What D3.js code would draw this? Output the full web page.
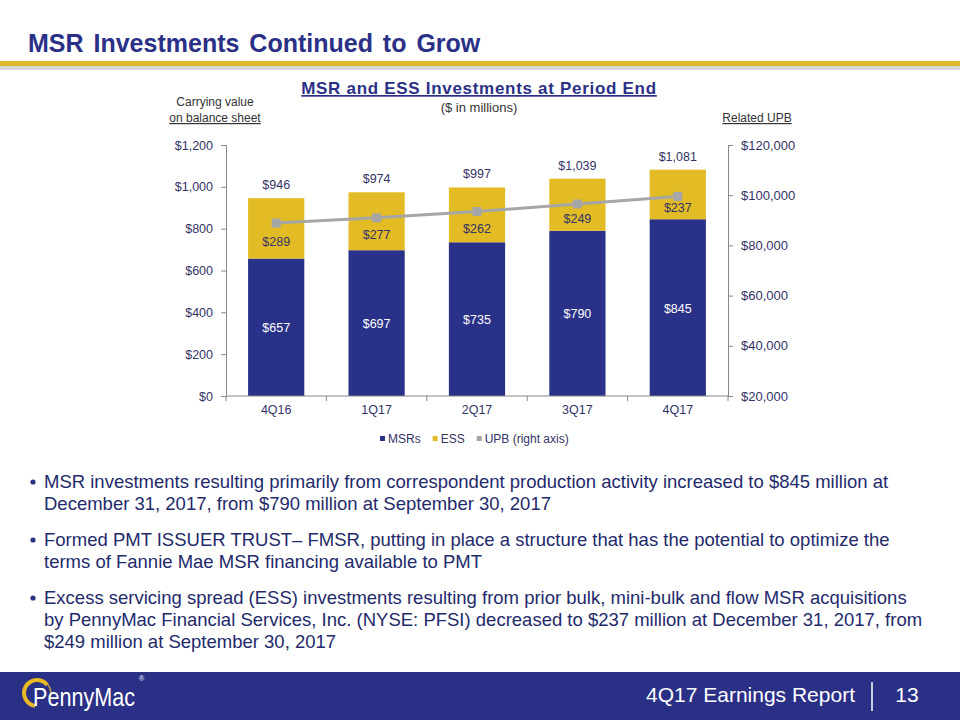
<!DOCTYPE html>
<html><head><meta charset="utf-8">
<script src="https://cdn.jsdelivr.net/npm/d3@7"></script>
<style>body{margin:0;background:#fff;}svg{display:block;font-family:"Liberation Sans",Arial,sans-serif;}</style>
</head><body>
<script>
const categories = ["4Q16","1Q17","2Q17","3Q17","4Q17"];
const msrValues = [657,697,735,790,845];
const essValues = [289,277,262,249,237];
const totalValues = [946,974,997,1039,1081];
const upbValues = [88900,91000,93500,96500,99500];
const leftTicks = [0,200,400,600,800,1000,1200];
const rightTicks = [20000,40000,60000,80000,100000,120000];
const legendItems = ["MSRs","ESS","UPB (right axis)"];
const bullets = [
  ["MSR investments resulting primarily from correspondent production activity increased to $845 million at","December 31, 2017, from $790 million at September 30, 2017"],
  ["Formed PMT ISSUER TRUST\u2013 FMSR, putting in place a structure that has the potential to optimize the","terms of Fannie Mae MSR financing available to PMT"],
  ["Excess servicing spread (ESS) investments resulting from prior bulk, mini-bulk and flow MSR acquisitions","by PennyMac Financial Services, Inc. (NYSE: PFSI) decreased to $237 million at December 31, 2017, from","$249 million at September 30, 2017"]
];

const NAVY="#2B3087", BAR="#2A3188", GOLD="#E3BC25", GRAY="#A6A6A6", TXT="#333366";
const W=960,H=720;
const svg=d3.select("body").append("svg").attr("width",W).attr("height",H);

// header
svg.append("text").attr("x",28).attr("y",52).attr("font-size",25).attr("font-weight","bold").attr("fill",NAVY).attr("word-spacing",3).text("MSR Investments Continued to Grow");
svg.append("rect").attr("x",0).attr("y",66).attr("width",W).attr("height",4).attr("fill","#d8d8d8");
svg.append("rect").attr("x",0).attr("y",61).attr("width",W).attr("height",5).attr("fill","#DDB92B");

// chart titles
svg.append("text").attr("x",479).attr("y",94).attr("text-anchor","middle").attr("font-size",17).attr("font-weight","bold").attr("letter-spacing",0.7).attr("fill",NAVY).attr("text-decoration","underline").text("MSR and ESS Investments at Period End");
svg.append("text").attr("x",479).attr("y",112).attr("text-anchor","middle").attr("font-size",13).attr("fill","#333").text("($ in millions)");
svg.append("text").attr("x",215).attr("y",106).attr("text-anchor","middle").attr("font-size",12).attr("fill","#333").text("Carrying value");
svg.append("text").attr("x",215).attr("y",122).attr("text-anchor","middle").attr("font-size",12).attr("fill","#333").attr("text-decoration","underline").text("on balance sheet");
svg.append("text").attr("x",757).attr("y",122).attr("text-anchor","middle").attr("font-size",12).attr("fill","#333").attr("text-decoration","underline").text("Related UPB");

// scales
const x=d3.scaleBand().domain(categories).range([226,728]).paddingInner(0.44).paddingOuter(0.22);
const xEdge=d3.scaleBand().domain(categories).range([226,728]);
const y=d3.scaleLinear().domain([0,1200]).range([396,145]);
const y2=d3.scaleLinear().domain([20000,120000]).range([396,145]);
const fmt=d=>"$"+d3.format(",")(d);

// axes
const gl=svg.append("g").attr("transform","translate(226,0)").call(d3.axisLeft(y).tickValues(leftTicks).tickFormat(fmt).tickSize(5).tickPadding(8));
const gr=svg.append("g").attr("transform","translate(728,0)").call(d3.axisRight(y2).tickValues(rightTicks).tickFormat(fmt).tickSize(5).tickPadding(8));
[gl,gr].forEach(g=>{g.selectAll("path,line").attr("stroke","#888");g.selectAll("text").attr("font-size",12.5).attr("fill",TXT).attr("font-family","Liberation Sans, Arial");});
gr.selectAll("text").attr("font-size",13);

// bars
const bars=svg.append("g");
categories.forEach((c,i)=>{
  bars.append("rect").attr("x",x(c)).attr("width",x.bandwidth()).attr("y",y(msrValues[i])).attr("height",y(0)-y(msrValues[i])).attr("fill",BAR);
  bars.append("rect").attr("x",x(c)).attr("width",x.bandwidth()).attr("y",y(msrValues[i]+essValues[i])).attr("height",y(msrValues[i])-y(msrValues[i]+essValues[i])).attr("fill",GOLD);
});

// x axis
const gx=svg.append("g").attr("transform","translate(0,396)");
gx.append("line").attr("x1",226).attr("x2",728).attr("stroke","#888");
[...categories.map(c=>xEdge(c)),728].forEach(e=>gx.append("line").attr("x1",e).attr("x2",e).attr("y1",0).attr("y2",5).attr("stroke","#888"));
categories.forEach(c=>gx.append("text").attr("x",x(c)+x.bandwidth()/2).attr("y",18).attr("text-anchor","middle").attr("font-size",12.5).attr("fill",TXT).text(c));

// line
const line=d3.line().x((d,i)=>x(categories[i])+x.bandwidth()/2).y(d=>y2(d));
svg.append("path").datum(upbValues).attr("d",line).attr("fill","none").attr("stroke",GRAY).attr("stroke-width",3);
upbValues.forEach((d,i)=>svg.append("rect").attr("x",x(categories[i])+x.bandwidth()/2-4.5).attr("y",y2(d)-4.5).attr("width",9).attr("height",9).attr("fill",GRAY));

// labels
categories.forEach((c,i)=>{
  const cx=x(c)+x.bandwidth()/2;
  svg.append("text").attr("x",cx).attr("y",y(msrValues[i]/2)+5).attr("text-anchor","middle").attr("font-size",12.5).attr("fill","#fff").text(fmt(msrValues[i]));
  svg.append("text").attr("x",cx).attr("y",(y(msrValues[i])+y(msrValues[i]+essValues[i]))/2+18).attr("text-anchor","middle").attr("font-size",12.5).attr("fill",TXT).text(fmt(essValues[i]));
  svg.append("text").attr("x",cx).attr("y",y(totalValues[i])-9).attr("text-anchor","middle").attr("font-size",12.5).attr("fill",TXT).text(fmt(totalValues[i]));
});

// legend
const legColors=[BAR,GOLD,GRAY];
let lx=380;
const lg=svg.append("g");
legendItems.forEach((t,i)=>{
  lg.append("rect").attr("x",lx).attr("y",436).attr("width",5).attr("height",5).attr("fill",legColors[i]);
  const tt=lg.append("text").attr("x",lx+8).attr("y",443).attr("font-size",12).attr("fill",TXT).text(t);
  lx+=8+tt.node().getComputedTextLength()+12;
});

// bullets
let by=488;
const bg=svg.append("g");
bullets.forEach((b,bi)=>{
  bg.append("circle").attr("cx",33).attr("cy",by-6).attr("r",2.6).attr("fill",NAVY);
  b.forEach((ln,li)=>{
    bg.append("text").attr("x",44).attr("y",by).attr("font-size",18.5).attr("fill","#232A6B").text(ln);
    by+=22;
  });
  by+=14;
});

// footer
svg.append("rect").attr("x",0).attr("y",672).attr("width",W).attr("height",48).attr("fill",NAVY);
svg.append("text").attr("x",855).attr("y",702).attr("text-anchor","end").attr("font-size",21).attr("fill","#fff").text("4Q17 Earnings Report");
svg.append("line").attr("x1",872).attr("x2",872).attr("y1",682).attr("y2",711).attr("stroke","#fff").attr("stroke-width",1.5);
svg.append("text").attr("x",907).attr("y",702).attr("text-anchor","middle").attr("font-size",21).attr("fill","#fff").text("13");
// logo
const logo=svg.append("g");
logo.append("path").attr("d",d3.arc()({innerRadius:11,outerRadius:15,startAngle:-3.0,endAngle:0.9})).attr("transform","translate(37,693)").attr("fill","#E8B923");
logo.append("path").attr("d",d3.arc()({innerRadius:13,outerRadius:14.5,startAngle:0.9,endAngle:2.0})).attr("transform","translate(37,693)").attr("fill","#B89A40");
logo.append("text").attr("x",33).attr("y",706).attr("font-size",25).attr("fill","#fff").attr("textLength",102).attr("lengthAdjust","spacingAndGlyphs").text("PennyMac");
logo.append("text").attr("x",139).attr("y",681).attr("font-size",7).attr("fill","#fff").text("\u00AE");
</script>
</body></html>
